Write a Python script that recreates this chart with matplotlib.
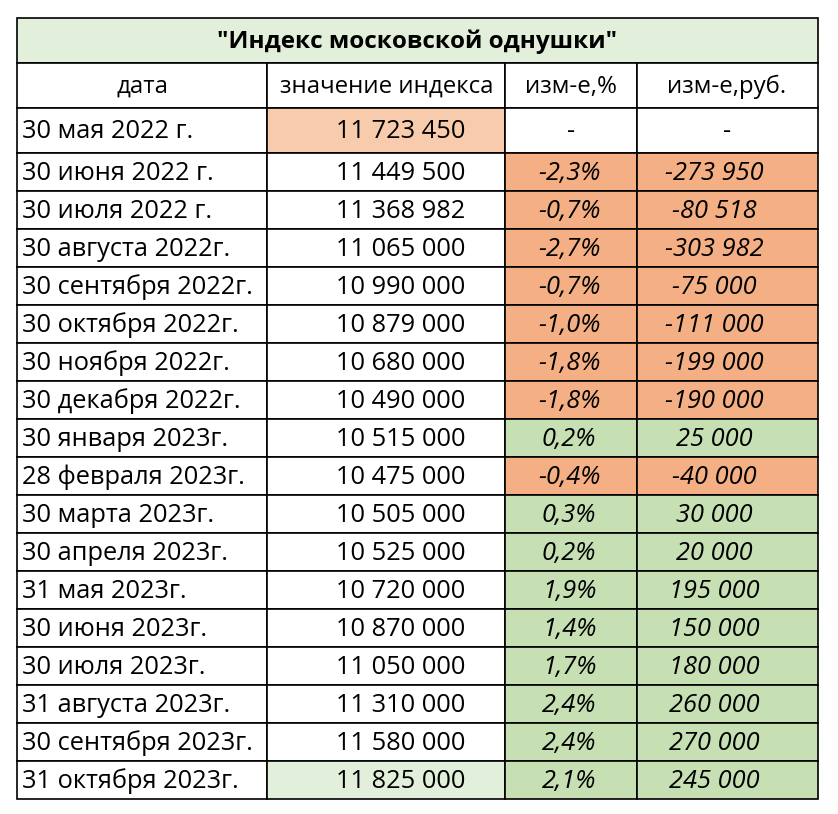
import matplotlib
matplotlib.use("Agg")
import matplotlib.pyplot as plt
from matplotlib.patches import Rectangle

plt.rcParams['font.family'] = ['Open Sans', 'DejaVu Sans']

title = '"Индекс московской однушки"'
headers = ["дата", "значение индекса", "изм-е,%", "изм-е,руб."]
dates = ["30 мая 2022 г.", "30 июня 2022 г.", "30 июля 2022 г.", "30 августа 2022г.",
         "30 сентября 2022г.", "30 октября 2022г.", "30 ноября 2022г.", "30 декабря 2022г.",
         "30 января 2023г.", "28 февраля 2023г.", "30 марта 2023г.", "30 апреля 2023г.",
         "31 мая 2023г.", "30 июня 2023г.", "30 июля 2023г.", "31 августа 2023г.",
         "30 сентября 2023г.", "31 октября 2023г."]
values = [11723450, 11449500, 11368982, 11065000, 10990000, 10879000, 10680000, 10490000,
          10515000, 10475000, 10505000, 10525000, 10720000, 10870000, 11050000, 11310000,
          11580000, 11825000]
pct = [None, -2.3, -0.7, -2.7, -0.7, -1.0, -1.8, -1.8, 0.2, -0.4, 0.3, 0.2, 1.9, 1.4, 1.7,
       2.4, 2.4, 2.1]
rub = [None, -273950, -80518, -303982, -75000, -111000, -199000, -190000, 25000, -40000,
       30000, 20000, 195000, 150000, 180000, 260000, 270000, 245000]


def fmt_num(v):
    return f"{v:,}".replace(",", " ")


def fmt_pct(v):
    return f"{v:.1f}%".replace(".", ",")


W, H = 838, 814
fig = plt.figure(figsize=(W / 100, H / 100), dpi=100)
ax = fig.add_axes([0, 0, 1, 1])
ax.set_xlim(0, W)
ax.set_ylim(H, 0)
ax.axis("off")

cols = [17, 267, 505, 637, 818]
y_title, y_head, y_row1 = 18, 63, 108
row_h = 38
rows_y = [y_row1, 153] + [153 + row_h * (i + 1) for i in range(len(dates) - 1)]

orange = "#F4B084"
green = "#C6E0B4"
light_green = "#E2EFDA"
light_orange = "#F8CBAD"
fs = 18.3

# title row
ax.add_patch(Rectangle((cols[0], y_title), cols[-1] - cols[0], y_head - y_title,
                       facecolor=light_green, edgecolor="black", lw=1.2))
ax.text(417, (y_title + y_head) / 2 + 1, title, ha="center",
        va="center", fontsize=17.5, fontweight="bold")

# header row
head_x = [142, 387, 571, 727]
for j, h in enumerate(headers):
    ax.add_patch(Rectangle((cols[j], y_head), cols[j + 1] - cols[j], y_row1 - y_head,
                           facecolor="white", edgecolor="black", lw=1.2))
    ax.text(head_x[j], (y_head + y_row1) / 2 + 1, h, ha="center",
            va="center", fontsize=17.3)

# data rows
for i in range(len(dates)):
    top, bot = rows_y[i], rows_y[i + 1]
    yc = (top + bot) / 2 + 1.5
    if i == 0:
        vcol = light_orange
    elif i == len(dates) - 1:
        vcol = light_green
    else:
        vcol = "white"
    if pct[i] is None:
        ccol = "white"
    else:
        ccol = green if pct[i] > 0 else orange
    fills = ["white", vcol, ccol, ccol]
    for j in range(4):
        ax.add_patch(Rectangle((cols[j], top), cols[j + 1] - cols[j], bot - top,
                               facecolor=fills[j], edgecolor="black", lw=1.2))
    ax.text(cols[0] + 5, yc, dates[i], ha="left", va="center", fontsize=fs)
    ax.text(401, yc, fmt_num(values[i]), ha="center", va="center", fontsize=fs)
    if pct[i] is None:
        ax.text((cols[2] + cols[3]) / 2, yc, "-", ha="center", va="center", fontsize=fs)
        ax.text((cols[3] + cols[4]) / 2, yc, "-", ha="center", va="center", fontsize=fs)
    else:
        ax.text(569, yc, fmt_pct(pct[i]), ha="center", va="center", fontsize=fs,
                style="italic")
        ax.text(714, yc, fmt_num(rub[i]), ha="center", va="center", fontsize=fs,
                style="italic")

fig.savefig("out.png", dpi=100)
